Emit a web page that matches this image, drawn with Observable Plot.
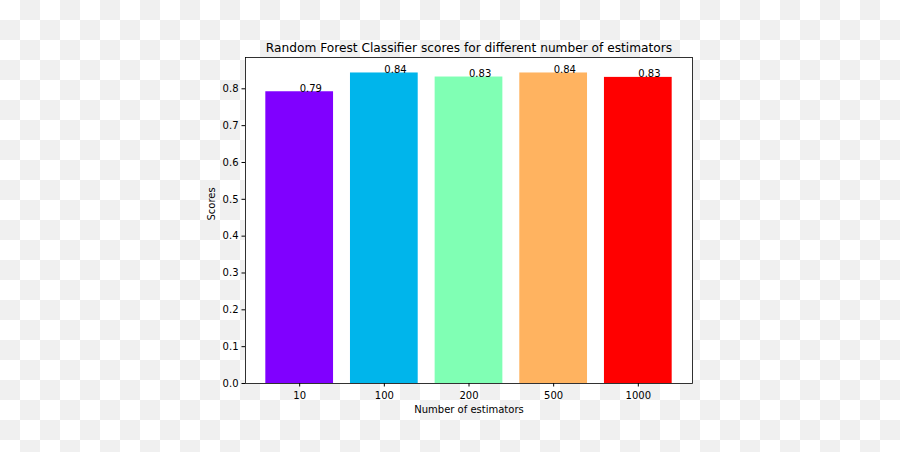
<!DOCTYPE html>
<html>
<head>
<meta charset="utf-8">
<script src="https://cdn.jsdelivr.net/npm/d3@7"></script>
<script src="https://cdn.jsdelivr.net/npm/@observablehq/plot@0.6"></script>
<style>
  html, body { margin: 0; padding: 0; }
  body {
    width: 900px; height: 452px; overflow: hidden;
    background: repeating-conic-gradient(#f0f0f0 0 25%, #ffffff 0 50%) 0 0 / 40px 40px;
    font-family: "DejaVu Sans", sans-serif;
  }
</style>
</head>
<body>
<div id="chart"></div>
<script>
const estimators = ["10", "100", "200", "500", "1000"];
const scores = [0.792, 0.843, 0.832, 0.843, 0.831];
const scoreLabels = ["0.79", "0.84", "0.83", "0.84", "0.83"];
const barColors = ["#8000ff", "#00b5eb", "#80ffb4", "#ffb360", "#ff0000"];
const yTicks = [0.0, 0.1, 0.2, 0.3, 0.4, 0.5, 0.6, 0.7, 0.8];
const title = "Random Forest Classifier scores for different number of estimators";
const xLabel = "Number of estimators";
const yLabel = "Scores";

const data = estimators.map((n, i) => ({n, score: scores[i], label: scoreLabels[i], color: barColors[i]}));

const chart = Plot.plot({
  width: 900,
  height: 452,
  marginTop: 57,
  marginBottom: 69,
  marginLeft: 245,
  marginRight: 208,
  style: {background: "transparent", fontFamily: "DejaVu Sans, sans-serif", color: "black"},
  x: {domain: estimators, paddingInner: 0.2, paddingOuter: 0.24, align: 0.5, round: false},
  y: {domain: [0, 0.885]},
  color: {type: "identity"},
  marks: [
    Plot.frame({fill: "white", stroke: null}),
    Plot.barY(data, {x: "n", y: "score", fill: "color"}),
    Plot.text(data, {x: "n", y: "score", text: "label", textAnchor: "start", lineAnchor: "bottom", fontSize: 10, fill: "black"}),
    Plot.axisX({tickSize: 3.5, tickPadding: 4.5, fontSize: 10, label: null, stroke: "black", fill: "black"}),
    Plot.axisY({ticks: yTicks, tickFormat: d3.format(".1f"), tickSize: 3.5, tickPadding: 3.5, fontSize: 10, label: null, stroke: "black", fill: "black"}),
    Plot.text([title], {frameAnchor: "top", dy: -6, lineAnchor: "bottom", fontSize: 12.2, fill: "black"}),
    Plot.text([xLabel], {frameAnchor: "bottom", dy: 29.5, lineAnchor: "bottom", fontSize: 10, fill: "black"}),
    Plot.text([yLabel], {frameAnchor: "left", dx: -34, rotate: -90, fontSize: 10, fill: "black"}),
    Plot.frame({stroke: "black", strokeWidth: 0.8})
  ]
});
document.getElementById("chart").appendChild(chart);
</script>
</body>
</html>
